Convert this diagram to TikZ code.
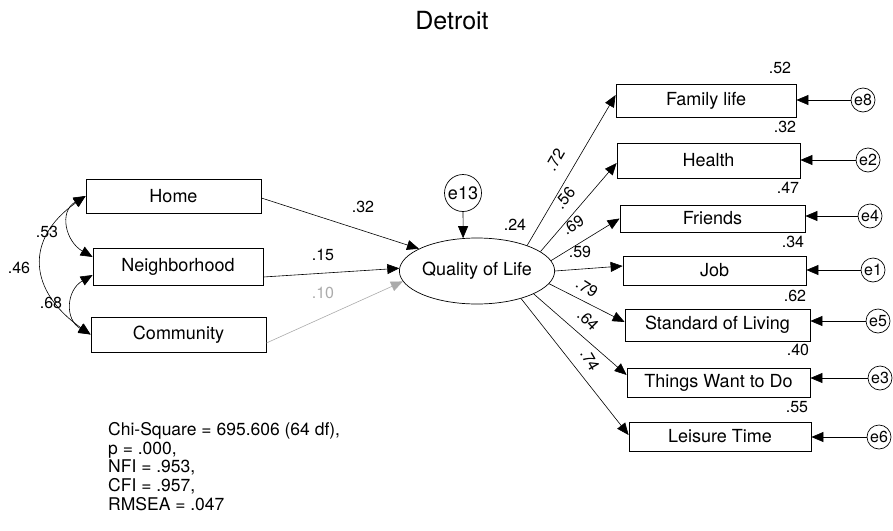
\documentclass[tikz,border=0pt]{standalone}
\usepackage{fontspec}
\setmainfont{TeX Gyre Heros}
\usetikzlibrary{arrows.meta,shapes.geometric}
\begin{document}
\begin{tikzpicture}[x=1pt,y=-1pt,
  box/.style={draw, line width=0.8pt, inner sep=0pt, font=\fontsize{18}{20}\selectfont},
  err/.style={draw, circle, line width=0.7pt, inner sep=0pt, minimum size=24pt, font=\fontsize{16}{18}\selectfont},
  lab/.style={inner sep=0pt, font=\fontsize{16}{18}\selectfont},
  arr/.style={-{Triangle[length=12pt,width=10pt]}, line width=0.6pt},
  cov/.style={{Triangle[length=12pt,width=10pt]}-{Triangle[length=12pt,width=10pt]}, line width=0.6pt},
  greyc/.style={color=black!33},
]
\useasboundingbox (0,0) rectangle (893,530);

% title
\node[anchor=base, inner sep=0pt, font=\fontsize{25}{28}\selectfont] (title) at (452,29) {Detroit};

% exogenous boxes
\node[box, minimum width=175pt, minimum height=34pt] (home) at (173.5,196) {Home};
\node[box, minimum width=170pt, minimum height=37pt] (neigh) at (178,266.5) {Neighborhood};
\node[box, minimum width=175pt, minimum height=35pt] (comm) at (178.5,334.5) {Community};

% latent
\node[draw, ellipse, line width=0.7pt, inner sep=0pt, minimum width=122pt, minimum height=66pt,
      font=\fontsize{18}{20}\selectfont] (qol) at (477,271) {Quality of Life};
\node[err, minimum size=37pt, font=\fontsize{18}{20}\selectfont] (e13) at (463,193) {e13};

% indicator boxes
\node[box, minimum width=180pt, minimum height=33pt] (fam) at (706,100.5) {Family life};
\node[box, minimum width=183pt, minimum height=35pt] (hea) at (708.5,160.5) {Health};
\node[box, minimum width=185pt, minimum height=27pt] (fri) at (712.5,218.5) {Friends};
\node[box, minimum width=183pt, minimum height=29pt] (job) at (714.5,270.5) {Job};
\node[box, minimum width=185pt, minimum height=32pt] (std) at (717.5,325) {Standard of Living};
\node[box, minimum width=183pt, minimum height=29pt] (thi) at (718.5,382.5) {Things Want to Do};
\node[box, minimum width=182pt, minimum height=29pt] (lei) at (720,436.5) {Leisure Time};

% error circles
\node[err] (e8) at (863,100) {e8};
\node[err] (e2) at (868,160) {e2};
\node[err] (e4) at (870,216) {e4};
\node[err] (e1) at (873,270) {e1};
\node[err] (e5) at (878,321) {e5};
\node[err] (e3) at (880,378) {e3};
\node[err] (e6) at (879,437) {e6};

% covariances
\draw[cov] (home.west) to[out=210,in=150,looseness=1.3] ([yshift=9.5pt]neigh.west);
\draw[cov] ([yshift=-8.5pt]neigh.west) to[out=210,in=150,looseness=1.3] (comm.west);
\draw[cov] (home.west) to[out=215,in=145,looseness=1.39] (comm.west);
\node[lab] (c53) at (47,232) {.53};
\node[lab] (c46) at (19,268) {.46};
\node[lab] (c68) at (51,303) {.68};

% regressions
\draw[arr] ([yshift=-2pt]home.east) -- (qol.159);
\draw[arr] ([yshift=-10.5pt]neigh.east) -- (qol.178);
\draw[arr, greyc] ([yshift=-8.5pt]comm.east) -- (qol.188.5);
\node[lab] (r32) at (363,207) {.32};
\node[lab] (r15) at (323,255) {.15};
\node[lab, text=black!33] (r10) at (323,293) {.10};

\draw[arr] (e13) -- (qol.113);
\node[lab] (r24) at (515,225) {.24};

% loadings
\draw[arr] (qol.27) -- ([yshift=5.5pt]fam.west);
\draw[arr] (qol.17.5) -- ([yshift=-2.5pt]hea.west);
\draw[arr] (qol.8.5) -- (fri.west);
\draw[arr] (qol.0) -- ([yshift=4.5pt]job.west);
\draw[arr] (qol.-10.7) -- ([yshift=3pt]std.west);
\draw[arr] (qol.-22.8) -- ([yshift=7.5pt]thi.west);
\draw[arr] (qol.-32) -- ([yshift=1.5pt]lei.west);

\node[lab, rotate=60] (l72) at (555,160) {.72};
\node[lab, rotate=50] (l56) at (565,198) {.56};
\node[lab, rotate=32] (l69) at (573,225) {.69};
\node[lab] (l59) at (580,252) {.59};
\node[lab, rotate=-32] (l79) at (587,288) {.79};
\node[lab, rotate=-45] (l64) at (588,320) {.64};
\node[lab, rotate=-60] (l74) at (590,360) {.74};

% error arrows
\draw[arr] (e8) -- (e8 -| fam.east);
\draw[arr] (e2) -- (e2 -| hea.east);
\draw[arr] (e4) -- (e4 -| fri.east);
\draw[arr] (e1) -- (e1 -| job.east);
\draw[arr] (e5) -- (e5 -| std.east);
\draw[arr] (e3) -- (e3 -| thi.east);
\draw[arr] (e6) -- (e6 -| lei.east);

% R squared
\node[lab] (s52) at (780,68) {.52};
\node[lab] (s32) at (785,127) {.32};
\node[lab] (s47) at (788,188) {.47};
\node[lab] (s34) at (793,242) {.34};
\node[lab] (s62) at (795,296) {.62};
\node[lab] (s40) at (798,350) {.40};
\node[lab] (s55) at (797,407) {.55};

% fit statistics
\node[anchor=north west, align=left, inner sep=0pt, font=\fontsize{17.5}{18.8}\selectfont] (stats) at (108,422)
  {Chi-Square = 695.606 (64 df),\\ p = .000,\\ NFI = .953,\\ CFI = .957,\\ RMSEA = .047};
\end{tikzpicture}
\end{document}
